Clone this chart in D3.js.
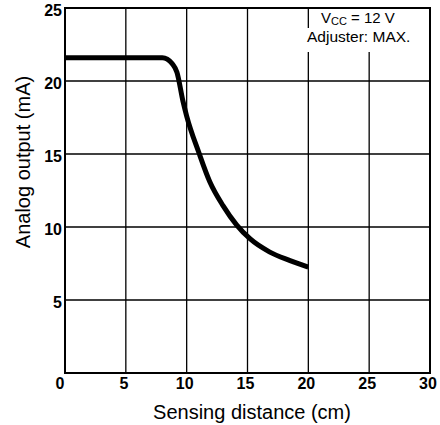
<!DOCTYPE html>
<html>
<head>
<meta charset="utf-8">
<script src="https://cdn.jsdelivr.net/npm/d3@7"></script>
<style>
  body { margin: 0; background: #fff; }
  text { font-family: "Liberation Sans", Arial, sans-serif; fill: #000; }
</style>
</head>
<body>
<svg id="chart" width="440" height="425"></svg>
<script>
// sensing distance (cm) vs analog output (mA)
const distance = [0, 2, 4, 6, 8, 8.4, 8.8, 9.2, 9.7, 10.0, 11.0, 11.9, 13.0, 14.1, 15.2, 16.8, 18.5, 20.0];
const current  = [21.6, 21.6, 21.6, 21.6, 21.6, 21.5, 21.2, 20.6, 18.6, 17.6, 15.1, 13.1, 11.45, 10.15, 9.2, 8.3, 7.7, 7.25];
const xTicks = [0, 5, 10, 15, 20, 25, 30];
const yTicks = [5, 10, 15, 20, 25];

const svg = d3.select("#chart");
const pL = 65, pR = 430, pT = 8, pB = 373;

const x = d3.scaleLinear().domain([0, 30]).range([pL, pR]);
const y = d3.scaleLinear().domain([0, 25]).range([pB, pT]);

// grid
svg.append("g")
  .selectAll("line")
  .data(xTicks.slice(1, -1))
  .enter().append("line")
  .attr("x1", d => x(d)).attr("x2", d => x(d))
  .attr("y1", pT).attr("y2", pB)
  .attr("stroke", "#000").attr("stroke-width", 1.3);

svg.append("g")
  .selectAll("line")
  .data(yTicks.slice(0, -1))
  .enter().append("line")
  .attr("x1", pL).attr("x2", pR)
  .attr("y1", d => y(d)).attr("y2", d => y(d))
  .attr("stroke", "#000").attr("stroke-width", 1.3);

// frame
svg.append("rect")
  .attr("x", pL).attr("y", pT)
  .attr("width", pR - pL).attr("height", pB - pT)
  .attr("fill", "none").attr("stroke", "#000").attr("stroke-width", 2);

// annotation (white behind the text)
svg.append("rect").attr("x", 314).attr("y", 9).attr("width", 115).attr("height", 20).attr("fill", "#fff");
svg.append("rect").attr("x", 304).attr("y", 28).attr("width", 125).attr("height", 24).attr("fill", "#fff");
const note = svg.append("text").attr("x", 321).attr("y", 23).attr("font-size", 15);
note.append("tspan").text("V");
note.append("tspan").attr("font-size", 11).attr("dy", 2).text("CC");
note.append("tspan").attr("dy", -2).text(" = 12 V");
svg.append("text").attr("x", 307).attr("y", 42).attr("font-size", 15.5).text("Adjuster: MAX.");

// curve
const line = d3.line()
  .x((d, i) => x(distance[i]))
  .y(d => y(d))
  .curve(d3.curveMonotoneX);

svg.append("path")
  .datum(current)
  .attr("d", line)
  .attr("fill", "none")
  .attr("stroke", "#000")
  .attr("stroke-width", 5)
  .attr("stroke-linejoin", "round");

// tick labels
svg.append("g").selectAll("text")
  .data(xTicks)
  .enter().append("text")
  .attr("x", d => d === 0 ? x(d) - 5 : x(d) - 2)
  .attr("y", 389)
  .attr("text-anchor", "middle")
  .attr("font-size", 16).attr("font-weight", "bold")
  .text(d => d);

svg.append("g").selectAll("text")
  .data(yTicks)
  .enter().append("text")
  .attr("x", 62)
  .attr("y", d => y(d) + 8)
  .attr("text-anchor", "end")
  .attr("font-size", 16).attr("font-weight", "bold")
  .text(d => d);

// axis titles
svg.append("text")
  .attr("x", 252)
  .attr("y", 419)
  .attr("text-anchor", "middle")
  .attr("font-size", 20)
  .text("Sensing distance (cm)");

svg.append("text")
  .attr("transform", "translate(30,162) rotate(-90)")
  .attr("text-anchor", "middle")
  .attr("font-size", 20)
  .text("Analog output (mA)");
</script>
</body>
</html>
